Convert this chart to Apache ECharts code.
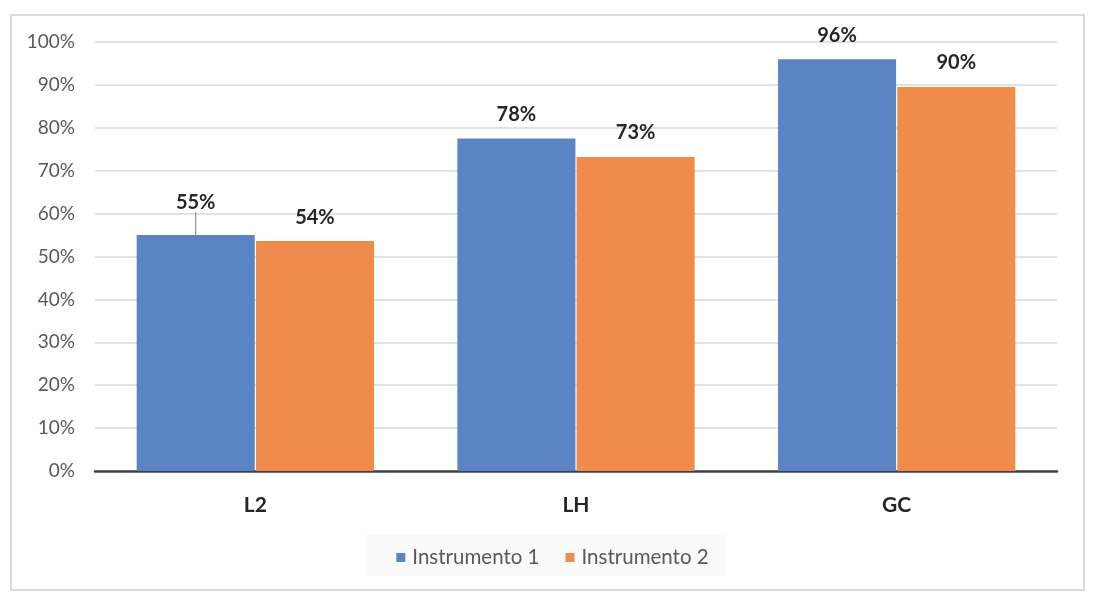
<!DOCTYPE html>
<html><head><meta charset="utf-8">
<script src="https://cdn.jsdelivr.net/npm/echarts@6/dist/echarts.min.js"></script>
<style>html,body{margin:0;padding:0;background:#fff}#c{width:1105px;height:605px}</style>
</head><body><div id="c"></div>
<script>
const categories = ['L2', 'LH', 'GC'];
const seriesNames = ['Instrumento 1', 'Instrumento 2'];
const instrumento1 = [55, 77.5, 96];
const instrumento2 = [53.6, 73.2, 89.5];
const yTicks = [0, 10, 20, 30, 40, 50, 60, 70, 80, 90, 100];

const chart = echarts.init(document.getElementById('c'));
const font = 'Lato, "Liberation Sans", sans-serif';
const labelCfg = {
  show: true, position: 'top', distance: 14,
  formatter: p => Math.round(p.value) + '%',
  fontFamily: font, fontWeight: 'bold', fontSize: 20, color: '#262626'
};
chart.setOption({
  animation: false,
  textStyle: { fontFamily: font },
  graphic: [{ type: 'rect', shape: { x: 11, y: 15, width: 1073, height: 575 },
    style: { fill: 'none', stroke: '#d0d0d0', lineWidth: 1.5 } },
    { type: 'rect', shape: { x: 366, y: 535, width: 360, height: 41 },
    style: { fill: '#fafafa', stroke: 'none' }, z: -1 }],
  grid: { left: 95, right: 48, top: 42, bottom: 134, containLabel: false },
  legend: {
    data: seriesNames, top: 542, left: 'center', itemWidth: 9, itemHeight: 9, itemGap: 26,
    icon: 'rect', textStyle: { fontSize: 20.5, color: '#595959', fontFamily: font, padding: [0, 0, 0, 2] }
  },
  xAxis: {
    type: 'category', data: categories,
    axisLine: { lineStyle: { color: '#404040', width: 2.5 } },
    axisTick: { show: false },
    axisLabel: { fontSize: 21, fontWeight: 'bold', color: '#262626', margin: 24, fontFamily: font }
  },
  yAxis: {
    type: 'value', min: yTicks[0], max: yTicks[yTicks.length - 1], interval: 10,
    axisLine: { show: false }, axisTick: { show: false },
    axisLabel: { formatter: '{value}%', fontSize: 19, color: '#595959', margin: 20, fontFamily: font },
    splitLine: { lineStyle: { color: '#d9d9d9', width: 1.5 } }
  },
  series: [
    { name: seriesNames[0], type: 'bar',
      data: instrumento1.map((v, i) => i === 0 ? { value: v, labelLine: { show: true } } : v),
      barGap: '1%', barCategoryGap: '26%',
      itemStyle: { color: '#5b84c5' }, label: labelCfg,
      labelLine: { show: false, lineStyle: { color: '#7f7f7f', width: 1 } },
      labelLayout: p => p.dataIndex === 0 ? { dy: -9 } : {} },
    { name: seriesNames[1], type: 'bar', data: instrumento2,
      itemStyle: { color: '#ef8c4c' }, label: labelCfg }
  ]
});
</script></body></html>
